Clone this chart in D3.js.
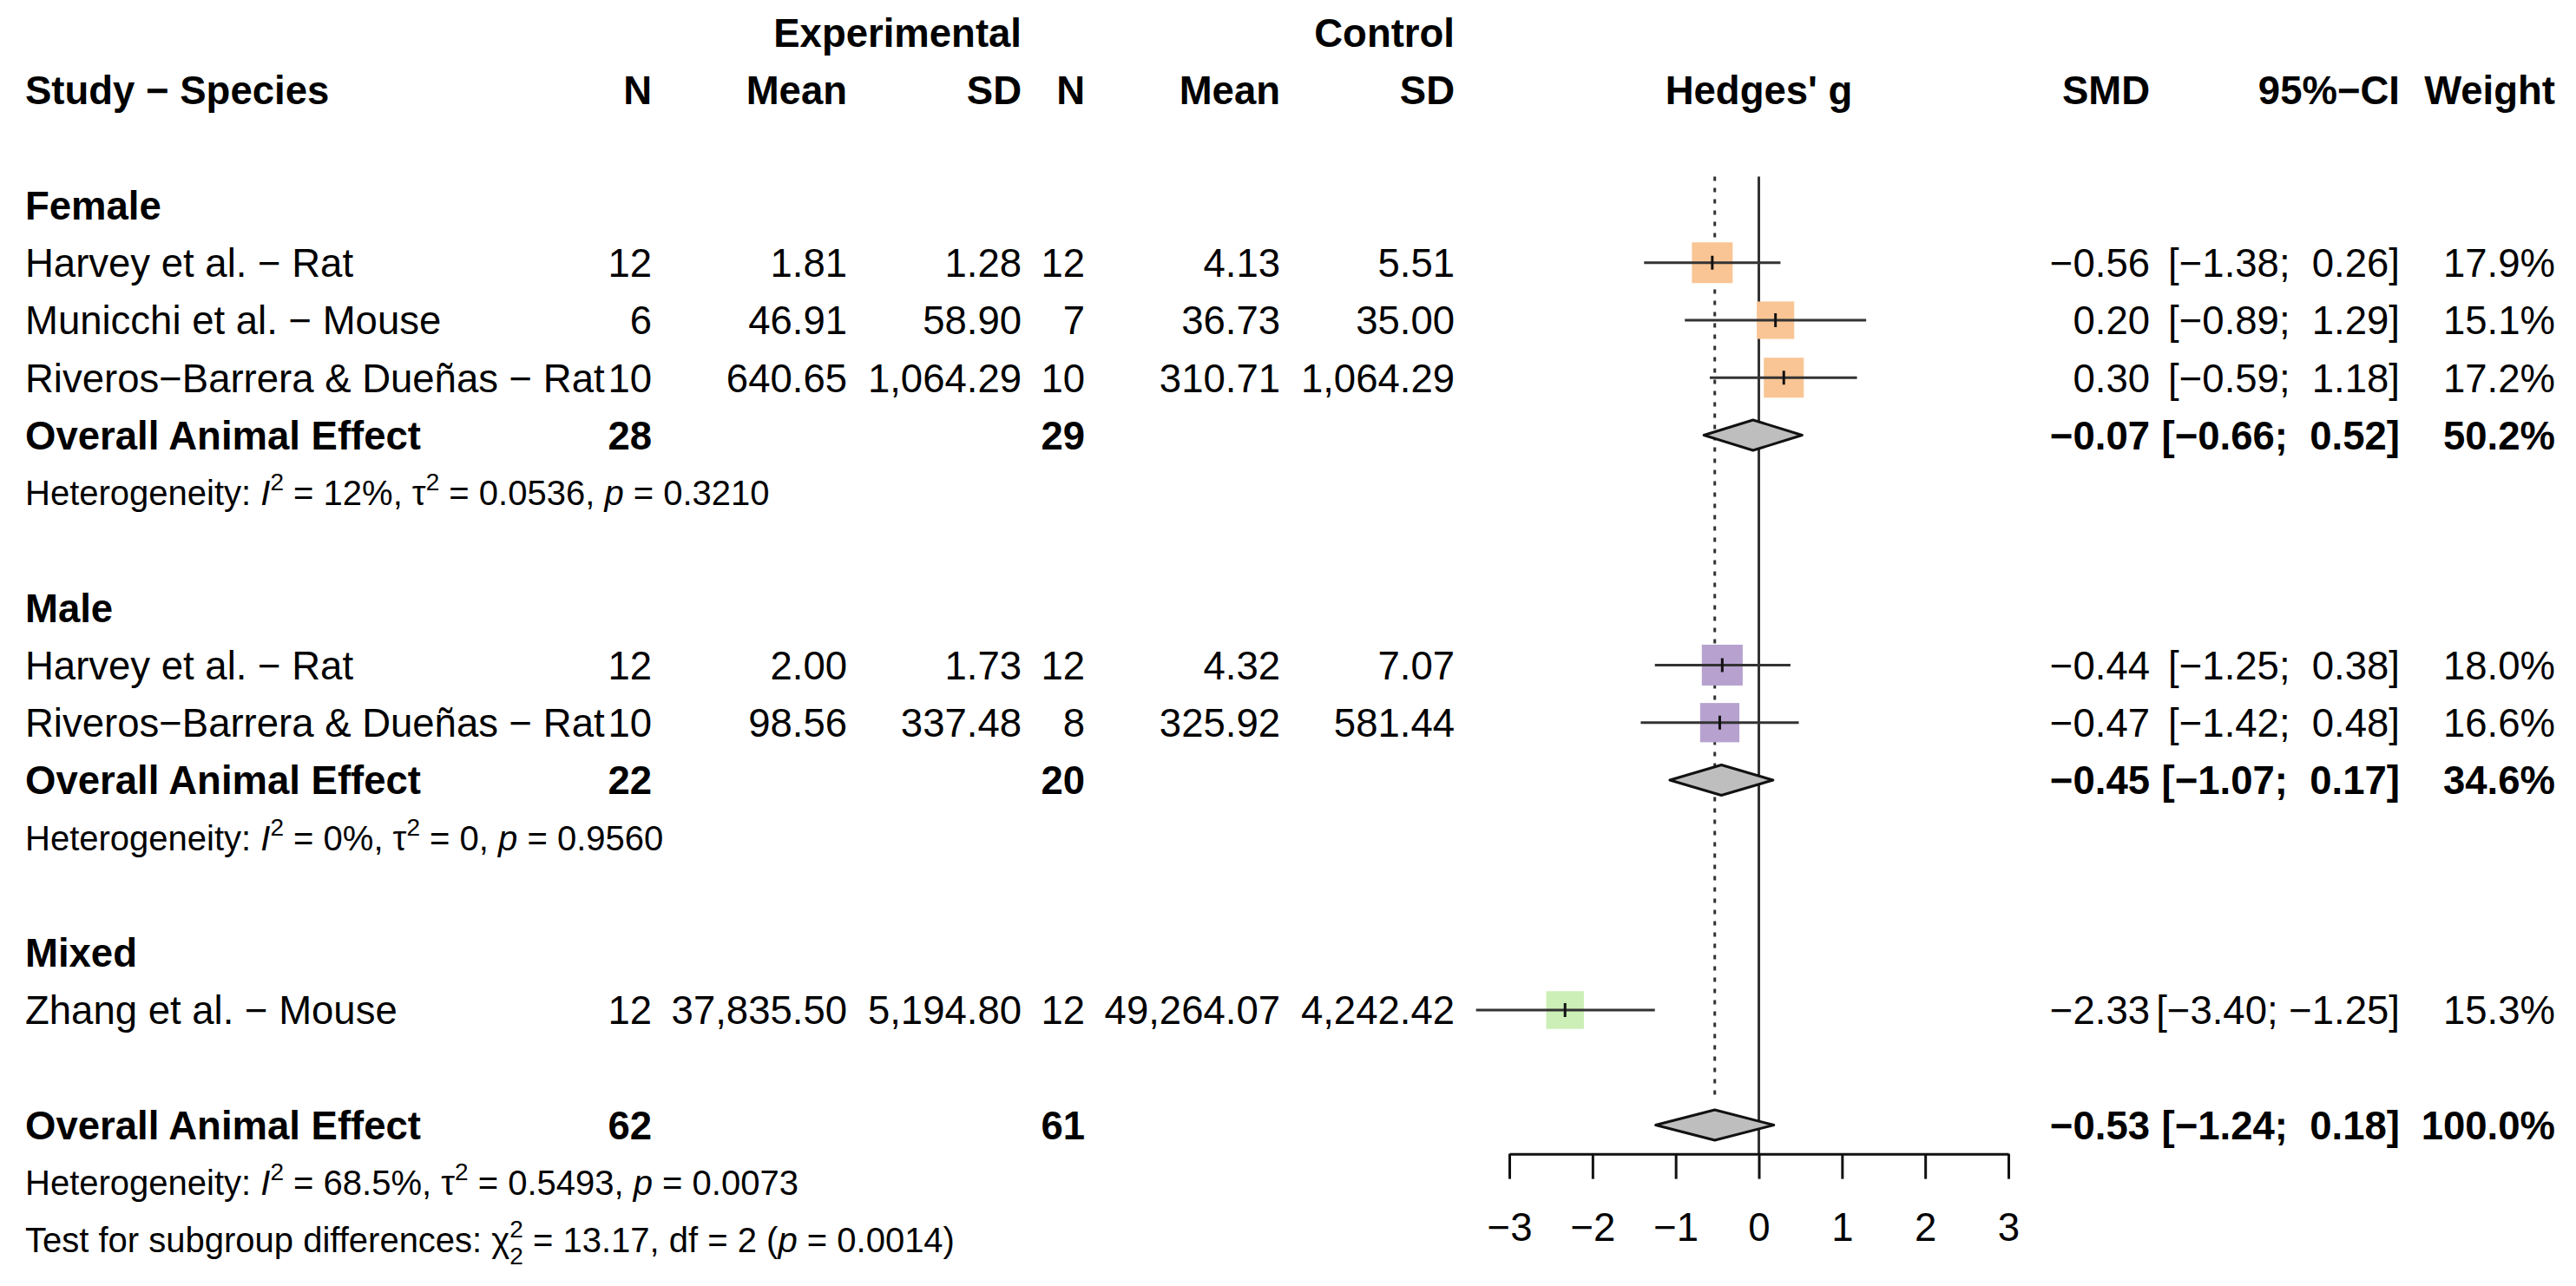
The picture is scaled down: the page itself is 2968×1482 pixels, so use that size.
<!DOCTYPE html>
<html>
<head>
<meta charset="utf-8">
<script src="https://cdn.jsdelivr.net/npm/d3@7"></script>
<style>
  body { margin: 0; background: #fff; }
  text { font-family: "Liberation Sans", Arial, Helvetica, sans-serif; white-space: pre; }
</style>
</head>
<body>
<svg id="chart" width="2968" height="1482"></svg>
<script>
// Study rows
const studyLabels = [
  "Harvey et al. \u2212 Rat",
  "Municchi et al. \u2212 Mouse",
  "Riveros\u2212Barrera & Due\u00f1as \u2212 Rat",
  "Harvey et al. \u2212 Rat",
  "Riveros\u2212Barrera & Due\u00f1as \u2212 Rat",
  "Zhang et al. \u2212 Mouse"
];
const studyGroup = ["Female", "Female", "Female", "Male", "Male", "Mixed"];
const studyRow = [3, 4, 5, 10, 11, 16];
const nE = ["12", "6", "10", "12", "10", "12"];
const meanE = ["1.81", "46.91", "640.65", "2.00", "98.56", "37,835.50"];
const sdE = ["1.28", "58.90", "1,064.29", "1.73", "337.48", "5,194.80"];
const nC = ["12", "7", "10", "12", "8", "12"];
const meanC = ["4.13", "36.73", "310.71", "4.32", "325.92", "49,264.07"];
const sdC = ["5.51", "35.00", "1,064.29", "7.07", "581.44", "4,242.42"];
const smd = [-0.56, 0.20, 0.30, -0.44, -0.47, -2.33];
const lower = [-1.38, -0.89, -0.59, -1.25, -1.42, -3.40];
const upper = [0.26, 1.29, 1.18, 0.38, 0.48, -1.25];
const weight = [17.9, 15.1, 17.2, 18.0, 16.6, 15.3];

// Subgroup headings and pooled rows
const groupNames = ["Female", "Male", "Mixed"];
const groupRow = [2, 9, 15];
const groupColors = ["#f9c595", "#b6a1cf", "#cbefb6"];
const pooledLabels = ["Overall Animal Effect", "Overall Animal Effect", "Overall Animal Effect"];
const pooledRow = [6, 12, 18];
const pooledNE = ["28", "22", "62"];
const pooledNC = ["29", "20", "61"];
const pooledSmd = [-0.07, -0.45, -0.53];
const pooledLower = [-0.66, -1.07, -1.24];
const pooledUpper = [0.52, 0.17, 0.18];
const pooledWeight = ["50.2%", "34.6%", "100.0%"];
const hetRow = [7, 13, 19];
const hetI2 = ["12%", "0%", "68.5%"];
const hetTau2 = ["0.0536", "0", "0.5493"];
const hetP = ["0.3210", "0.9560", "0.0073"];
const subgroupTest = { chi2: "13.17", df: "2", p: "0.0014" };

const xTicks = [-3, -2, -1, 0, 1, 2, 3];
const headerLabels = ["Study \u2212 Species", "N", "Mean", "SD", "N", "Mean", "SD", "Hedges' g", "SMD", "95%\u2212CI", "Weight"];

const svg = d3.select("#chart");
const FS = 45.5, FS_HET = 40;

const x = d3.scaleLinear().domain([-3, 3]).range([1739, 2314]);
const y = d3.scaleLinear().domain([0, 20]).range([104, 1429]);
const side = d3.scaleSqrt().domain([0, 100]).range([0, 111]);

// right edges of the text columns
const col = { lab: 29, nE: 751, meanE: 976, sdE: 1177, nC: 1250, meanC: 1475, sdC: 1676, smd: 2477, ci: 2765, w: 2944 };

const fmt = (v) => d3.format(".2f")(v).replace("-", "\u2212");
const ciText = (lo, hi) => "[" + fmt(lo) + ";" + (hi < 0 ? " " : "  ") + fmt(hi) + "]";

function txt(g, str, xx, row, anchor, bold, size) {
  return g.append("text")
    .attr("x", xx)
    .attr("y", y(row))
    .attr("dy", "0.36em")
    .attr("text-anchor", anchor)
    .attr("font-size", size || FS)
    .attr("font-weight", bold ? "bold" : "normal")
    .text(str);
}

const tg = svg.append("g").attr("class", "texts");

// headers
txt(tg, "Experimental", col.sdE, -1, "end", true);
txt(tg, "Control", col.sdC, -1, "end", true);
const headerX = [col.lab, col.nE, col.meanE, col.sdE, col.nC, col.meanC, col.sdC, x(0), col.smd, col.ci, col.w];
headerLabels.forEach((h, i) => {
  txt(tg, h, headerX[i], 0, i === 0 ? "start" : (i === 7 ? "middle" : "end"), true);
});

// group headings
groupNames.forEach((g, i) => txt(tg, g, col.lab, groupRow[i], "start", true));

// study rows
studyLabels.forEach((s, i) => {
  const r = studyRow[i];
  txt(tg, s, col.lab, r, "start");
  txt(tg, nE[i], col.nE, r, "end");
  txt(tg, meanE[i], col.meanE, r, "end");
  txt(tg, sdE[i], col.sdE, r, "end");
  txt(tg, nC[i], col.nC, r, "end");
  txt(tg, meanC[i], col.meanC, r, "end");
  txt(tg, sdC[i], col.sdC, r, "end");
  txt(tg, fmt(smd[i]), col.smd, r, "end");
  txt(tg, ciText(lower[i], upper[i]), col.ci, r, "end");
  txt(tg, weight[i].toFixed(1) + "%", col.w, r, "end");
});

// pooled rows
pooledLabels.forEach((s, i) => {
  const r = pooledRow[i];
  txt(tg, s, col.lab, r, "start", true);
  txt(tg, pooledNE[i], col.nE, r, "end", true);
  txt(tg, pooledNC[i], col.nC, r, "end", true);
  txt(tg, fmt(pooledSmd[i]), col.smd, r, "end", true);
  txt(tg, ciText(pooledLower[i], pooledUpper[i]), col.ci, r, "end", true);
  txt(tg, pooledWeight[i], col.w, r, "end", true);
});

// heterogeneity lines
hetRow.forEach((r, i) => {
  const t = txt(tg, "", col.lab, r, "start", false, FS_HET);
  t.append("tspan").text("Heterogeneity: ");
  t.append("tspan").attr("font-style", "italic").text("I");
  t.append("tspan").attr("font-size", 28).attr("dy", -17).text("2");
  t.append("tspan").attr("dy", 17).text(" = " + hetI2[i] + ", \u03c4");
  t.append("tspan").attr("font-size", 28).attr("dy", -17).text("2");
  t.append("tspan").attr("dy", 17).text(" = " + hetTau2[i] + ", ");
  t.append("tspan").attr("font-style", "italic").text("p");
  t.append("tspan").text(" = " + hetP[i]);
});

// test for subgroup differences
{
  const t = txt(tg, "", col.lab, 20, "start", false, FS_HET);
  t.append("tspan").text("Test for subgroup differences: \u03c7");
  t.append("tspan").attr("font-size", 28).attr("dy", -17).text("2");
  t.append("tspan").attr("font-size", 28).attr("dx", -15.6).attr("dy", 31).text(subgroupTest.df);
  t.append("tspan").attr("dy", -14).text(" = " + subgroupTest.chi2 + ", df = " + subgroupTest.df + " (");
  t.append("tspan").attr("font-style", "italic").text("p");
  t.append("tspan").text(" = " + subgroupTest.p + ")");
}

// plot area
const pg = svg.append("g").attr("class", "forest");

// reference lines
pg.append("line")
  .attr("x1", x(0)).attr("x2", x(0))
  .attr("y1", y(1.5)).attr("y2", y(18.5))
  .attr("stroke", "#333").attr("stroke-width", 3);
pg.append("line")
  .attr("x1", x(pooledSmd[2])).attr("x2", x(pooledSmd[2]))
  .attr("y1", y(1.5)).attr("y2", y(17.5))
  .attr("stroke", "#333").attr("stroke-width", 3)
  .attr("stroke-dasharray", "5,8");

// squares
studyRow.forEach((r, i) => {
  const s = side(weight[i]);
  const gi = groupNames.indexOf(studyGroup[i]);
  pg.append("rect")
    .attr("x", x(smd[i]) - s / 2)
    .attr("y", y(r) - s / 2)
    .attr("width", s)
    .attr("height", s)
    .attr("fill", groupColors[gi]);
});

// confidence intervals and point ticks
studyRow.forEach((r, i) => {
  pg.append("line")
    .attr("x1", x(lower[i])).attr("x2", x(upper[i]))
    .attr("y1", y(r)).attr("y2", y(r))
    .attr("stroke", "#333").attr("stroke-width", 3);
  pg.append("line")
    .attr("x1", x(smd[i])).attr("x2", x(smd[i]))
    .attr("y1", y(r) - 8).attr("y2", y(r) + 8)
    .attr("stroke", "#111").attr("stroke-width", 3);
});

// diamonds
pooledRow.forEach((r, i) => {
  const yc = y(r), h = 17.5;
  const pts = [
    [x(pooledLower[i]), yc],
    [x(pooledSmd[i]), yc - h],
    [x(pooledUpper[i]), yc],
    [x(pooledSmd[i]), yc + h]
  ];
  pg.append("polygon")
    .attr("points", pts.map((p) => p.join(",")).join(" "))
    .attr("fill", "#bebebe")
    .attr("stroke", "#111")
    .attr("stroke-width", 3)
    .attr("stroke-linejoin", "round");
});

// x axis
const axis = d3.axisBottom(x)
  .tickValues(xTicks)
  .tickSize(29)
  .tickSizeOuter(0)
  .tickPadding(39)
  .tickFormat(d3.format("d"));
const ag = svg.append("g")
  .attr("transform", "translate(0," + y(18.5) + ")")
  .call(axis);
ag.select(".domain").attr("stroke", "#111").attr("stroke-width", 3);
ag.selectAll(".tick line").attr("stroke", "#111").attr("stroke-width", 3);
ag.selectAll(".tick text")
  .attr("font-size", FS)
  .attr("font-family", "Liberation Sans, Arial, sans-serif")
  .attr("fill", "#000");
</script>
</body>
</html>
